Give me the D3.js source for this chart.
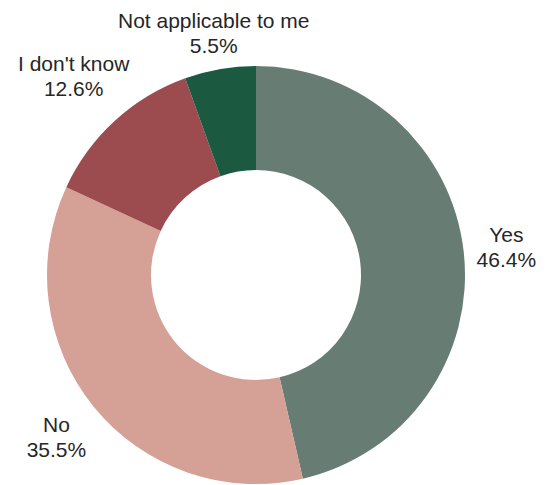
<!DOCTYPE html>
<html>
<head>
<meta charset="utf-8">
<script src="https://cdn.jsdelivr.net/npm/d3@7"></script>
<style>
  html, body { margin: 0; padding: 0; background: #fff; }
  svg { display: block; }
  .slice-label { font-family: "Liberation Sans", Arial, sans-serif; font-size: 21px; fill: #262626; }
</style>
</head>
<body>
<div id="chart"></div>
<script>
// answers, in drawing order (clockwise from 12 o'clock)
const categories = ["Yes", "No", "I don't know", "Not applicable to me"];
const shares = [46.4, 35.5, 12.6, 5.5];
const sliceColors = ["#677c73", "#d5a096", "#9c4c4f", "#1b5a41"];

const width = 553, height = 485;
const cx = 256, cy = 275;
const outerR = 209, innerR = 105;

// distance of each label block from the centre (layout only)
const labelDist = {"Yes": 252, "No": 257, "I don't know": 270, "Not applicable to me": 246};

const svg = d3.select("#chart").append("svg")
    .attr("width", width)
    .attr("height", height);

const data = categories.map((c, i) => ({name: c, value: shares[i], color: sliceColors[i]}));

const pie = d3.pie()
    .value(d => d.value)
    .sort(null);

const arc = d3.arc()
    .innerRadius(innerR)
    .outerRadius(outerR);

const arcs = pie(data);

const g = svg.append("g").attr("transform", `translate(${cx},${cy})`);

g.selectAll("path.slice")
    .data(arcs)
    .join("path")
    .attr("class", "slice")
    .attr("d", arc)
    .attr("fill", d => d.data.color);

// labels sit outside the ring, on the bisector of each slice
const labels = g.selectAll("text.slice-label")
    .data(arcs)
    .join("text")
    .attr("class", "slice-label")
    .attr("text-anchor", "middle")
    .attr("transform", d => {
        const a = (d.startAngle + d.endAngle) / 2;
        const r = labelDist[d.data.name];
        return `translate(${r * Math.sin(a)},${-r * Math.cos(a)})`;
    });

labels.append("tspan")
    .attr("x", 0)
    .attr("dy", "-0.24em")
    .text(d => d.data.name);

labels.append("tspan")
    .attr("x", 0)
    .attr("dy", "1.2em")
    .text(d => d.data.value.toFixed(1) + "%");
</script>
</body>
</html>
